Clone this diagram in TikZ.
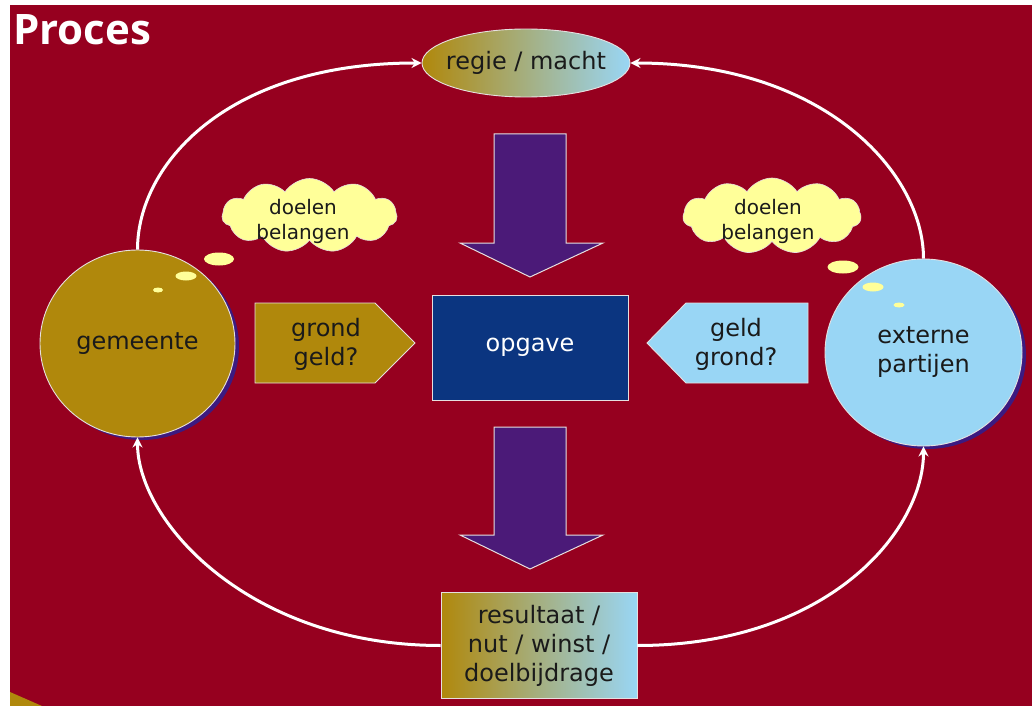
\documentclass[tikz,border=0pt]{standalone}
\usepackage{fontspec}
\setmainfont{DejaVu Sans}
\newfontfamily\titlefont{Open Sans}
\usetikzlibrary{shapes.geometric,shapes.symbols,arrows.meta,shadows}

\definecolor{bgred}{HTML}{96001F}
\definecolor{goldc}{HTML}{B0880C}
\definecolor{skyc}{HTML}{99D6F5}
\definecolor{navyc}{HTML}{0B3580}
\definecolor{violetc}{HTML}{4B1A78}
\definecolor{creamc}{HTML}{FFFF99}
\definecolor{shadowc}{HTML}{3C1A80}
\definecolor{edgec}{HTML}{E6E0E0}
\definecolor{inkc}{HTML}{1A1A1A}

\tikzset{
  lbl/.style={font=\fontsize{24}{29}\selectfont, text=inkc, align=center, inner sep=0pt},
  smalllbl/.style={font=\fontsize{20}{25}\selectfont, text=inkc, align=center, inner sep=0pt},
  rim/.style={draw=edgec, line width=0.9pt},
  actor/.style={ellipse, rim, inner sep=0pt,
    drop shadow={shadow xshift=4pt, shadow yshift=-3pt, fill=shadowc, opacity=1}},
  thought/.style={cloud, cloud puffs=11, cloud puff arc=115, aspect=2.4,
    fill=creamc, draw=edgec, line width=0.6pt, inner sep=0pt},
  puff/.style={ellipse, fill=creamc, draw=none, inner sep=0pt},
  loopline/.style={draw=white, line width=3pt, -{Stealth[length=10pt,width=10pt]}},
  downarrow/.style={fill=violetc, draw=edgec, line width=1pt, line join=miter},
  tag/.style={rim, line join=miter},
}

\begin{document}
\begin{tikzpicture}[x=1pt,y=-1pt]
\useasboundingbox (0,0) rectangle (1034,706);
\fill[white] (0,0) rectangle (1034,706);
\fill[bgred] (10,5) rectangle (1031.5,706);
\fill[goldc] (10,692) -- (42,706) -- (10,706) -- cycle;

% title
\node[anchor=base west, text=white, inner sep=0pt,
      font=\titlefont\bfseries\fontsize{42}{48}\selectfont] (title) at (13,45) {Proces};

% central task and the two big arrows
\draw[downarrow] (494,134) -- (566,134) -- (566,243) -- (603,243) -- (530,277)
      -- (460,243) -- (494,243) -- cycle;
\draw[downarrow] (494,427) -- (566,427) -- (566,535) -- (603,535) -- (530,569)
      -- (460,535) -- (494,535) -- cycle;

\node[rectangle, rim, fill=navyc, minimum width=196pt, minimum height=105pt,
      font=\fontsize{24}{29}\selectfont, text=white] (opgave) at (530,347.5) {opgave};

% what each party brings in
\draw[tag, fill=goldc] (255,303) -- (375,303) -- (415,343) -- (375,383) -- (255,383) -- cycle;
\node[lbl] (grond) at (326,344) {grond\\geld?};
\draw[tag, fill=skyc] (808,303) -- (686,303) -- (647,343) -- (686,383) -- (808,383) -- cycle;
\node[lbl] (geld) at (736,344) {geld\\grond?};

% top and bottom nodes
\node[ellipse, rim, left color=goldc, right color=skyc, minimum width=208pt,
      minimum height=68pt, inner sep=0pt] (regie) at (526,63) {};
\node[lbl] at (regie.center) {regie / macht};

\node[rectangle, rim, left color=goldc, right color=skyc, minimum width=196pt,
      minimum height=106pt, inner sep=0pt] (res) at (539,645.5) {};
\node[lbl] at (res.center) {resultaat /\\nut / winst /\\doelbijdrage};

% the two parties
\node[actor, fill=goldc, minimum width=195pt, minimum height=187pt] (gem) at (137.5,343.5) {};
\node[lbl] at (gem.center) {gemeente};
\node[actor, fill=skyc, minimum width=197pt, minimum height=187pt] (ext) at (923.5,352.5) {};
\node[lbl] at (ext.center) {externe\\partijen};

% thought clouds
\node[thought, minimum width=175pt, minimum height=74pt] (cloudL) at (309.5,215.5) {};
\node[smalllbl] at (303,221) {doelen\\belangen};
\node[puff, minimum width=30pt, minimum height=13pt] (pl1) at (219,259) {};
\node[puff, minimum width=21pt, minimum height=9pt] (pl2) at (186,276) {};
\node[puff, minimum width=10pt, minimum height=5pt] (pl3) at (158,290) {};

\node[thought, minimum width=178pt, minimum height=76pt] (cloudR) at (772,216) {};
\node[smalllbl] at (768,221) {doelen\\belangen};
\node[puff, minimum width=31pt, minimum height=13pt] (pr1) at (843,267) {};
\node[puff, minimum width=21pt, minimum height=9pt] (pr2) at (873,287) {};
\node[puff, minimum width=11pt, minimum height=5pt] (pr3) at (899,305) {};

% the cycle
\draw[loopline] (gem.north) .. controls +(0,-85) and +(-195,0) .. (regie.west);
\draw[loopline] (ext.north) .. controls +(0,-85) and +(195,0) .. (regie.east);
\draw[loopline] (res.west) .. controls +(-190,0) and +(0,85) .. (gem.south);
\draw[loopline] (res.east) .. controls +(190,0) and +(0,85) .. (ext.south);
\end{tikzpicture}
\end{document}
